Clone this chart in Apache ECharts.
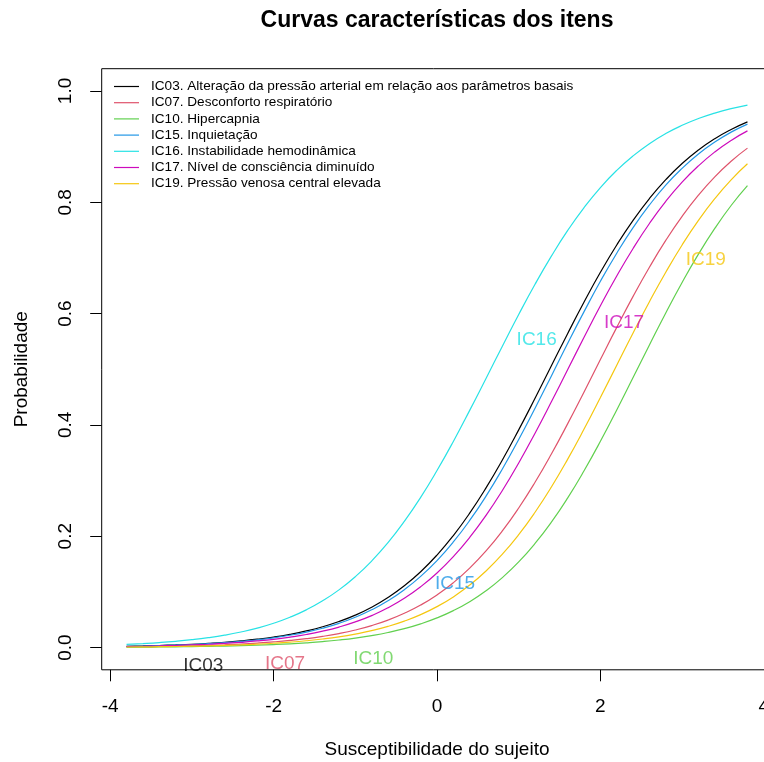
<!DOCTYPE html>
<html>
<head>
<meta charset="utf-8">
<script src="https://cdn.jsdelivr.net/npm/echarts@6/dist/echarts.min.js"></script>
<style>
  html, body { margin: 0; padding: 0; background: #fff; }
  #main { width: 764px; height: 762px; }
</style>
</head>
<body>
<div id="main"></div>
<script>
// habilidade (theta) onde as curvas foram lidas
var theta = [-3.8, -3.6, -3.4, -3.2, -3.0, -2.8, -2.6, -2.4, -2.2, -2.0, -1.8, -1.6, -1.4, -1.2, -1.0, -0.8, -0.6, -0.4, -0.2, 0,
             0.2, 0.4, 0.6, 0.8, 1.0, 1.2, 1.4, 1.6, 1.8, 2.0, 2.2, 2.4, 2.6, 2.8, 3.0, 3.2, 3.4, 3.6, 3.8];

// probabilidades, uma lista por item
var ic03 = [0.0023, 0.0029, 0.0037, 0.0047, 0.0059, 0.0075, 0.0094, 0.0119, 0.0150, 0.0188, 0.0237, 0.0298, 0.0373, 0.0467, 0.0582, 0.0725, 0.0899, 0.1110, 0.1362, 0.1662,
            0.2012, 0.2414, 0.2868, 0.3369, 0.3911, 0.4479, 0.5062, 0.5644, 0.6208, 0.6742, 0.7233, 0.7676, 0.8067, 0.8406, 0.8696, 0.8939, 0.9142, 0.9308, 0.9445];
var ic07 = [0.0013, 0.0016, 0.0020, 0.0025, 0.0032, 0.0040, 0.0050, 0.0063, 0.0080, 0.0101, 0.0127, 0.0159, 0.0200, 0.0251, 0.0315, 0.0395, 0.0493, 0.0615, 0.0763, 0.0945,
            0.1164, 0.1426, 0.1735, 0.2095, 0.2507, 0.2969, 0.3477, 0.4023, 0.4593, 0.5175, 0.5752, 0.6309, 0.6833, 0.7315, 0.7747, 0.8127, 0.8457, 0.8737, 0.8973];
var ic10 = [0.0007, 0.0008, 0.0010, 0.0013, 0.0017, 0.0021, 0.0026, 0.0033, 0.0042, 0.0053, 0.0067, 0.0085, 0.0107, 0.0135, 0.0170, 0.0215, 0.0270, 0.0339, 0.0425, 0.0532,
            0.0663, 0.0824, 0.1020, 0.1256, 0.1538, 0.1870, 0.2253, 0.2689, 0.3176, 0.3705, 0.4268, 0.4850, 0.5436, 0.6011, 0.6559, 0.7068, 0.7530, 0.7942, 0.8299];
var ic15 = [0.0022, 0.0027, 0.0035, 0.0044, 0.0055, 0.0070, 0.0088, 0.0111, 0.0139, 0.0175, 0.0221, 0.0277, 0.0347, 0.0435, 0.0544, 0.0678, 0.0841, 0.1040, 0.1279, 0.1563,
            0.1897, 0.2283, 0.2721, 0.3208, 0.3738, 0.4300, 0.4880, 0.5466, 0.6035, 0.6581, 0.7085, 0.7545, 0.7951, 0.8308, 0.8610, 0.8868, 0.9082, 0.9260, 0.9405];
var ic16 = [0.0056, 0.0071, 0.0089, 0.0112, 0.0141, 0.0177, 0.0222, 0.0279, 0.0349, 0.0436, 0.0544, 0.0677, 0.0840, 0.1036, 0.1273, 0.1554, 0.1883, 0.2265, 0.2697, 0.3180,
            0.3703, 0.4261, 0.4835, 0.5414, 0.5984, 0.6527, 0.7032, 0.7495, 0.7905, 0.8265, 0.8573, 0.8834, 0.9053, 0.9235, 0.9383, 0.9505, 0.9603, 0.9683, 0.9747];
var ic17 = [0.0019, 0.0023, 0.0029, 0.0037, 0.0047, 0.0059, 0.0074, 0.0094, 0.0118, 0.0148, 0.0187, 0.0234, 0.0294, 0.0368, 0.0460, 0.0574, 0.0714, 0.0885, 0.1092, 0.1340,
            0.1634, 0.1978, 0.2374, 0.2821, 0.3316, 0.3851, 0.4415, 0.4995, 0.5575, 0.6140, 0.6675, 0.7170, 0.7619, 0.8016, 0.8361, 0.8655, 0.8904, 0.9112, 0.9283];
var ic19 = [0.0010, 0.0012, 0.0015, 0.0019, 0.0024, 0.0030, 0.0038, 0.0048, 0.0061, 0.0077, 0.0097, 0.0122, 0.0153, 0.0192, 0.0242, 0.0303, 0.0379, 0.0474, 0.0591, 0.0735,
            0.0910, 0.1122, 0.1376, 0.1677, 0.2028, 0.2431, 0.2884, 0.3385, 0.3925, 0.4492, 0.5072, 0.5651, 0.6213, 0.6744, 0.7233, 0.7675, 0.8065, 0.8403, 0.8691];

var itemNames = [
    'IC03. Alteração da pressão arterial em relação aos parâmetros basais',
    'IC07. Desconforto respiratório',
    'IC10. Hipercapnia',
    'IC15. Inquietação',
    'IC16. Instabilidade hemodinâmica',
    'IC17. Nível de consciência diminuído',
    'IC19. Pressão venosa central elevada'
];
var itemValues = [ic03, ic07, ic10, ic15, ic16, ic17, ic19];

// rotulos escritos junto das curvas
var labelText = ['IC03', 'IC07', 'IC10', 'IC15', 'IC16', 'IC17', 'IC19'];
var labelX = [-2.86, -1.86, -0.78, 0.22, 1.22, 2.29, 3.29];
var labelY = [-0.033, -0.030, -0.021, 0.114, 0.553, 0.584, 0.696];

var xTicks = [-4, -2, 0, 2, 4];
var yTicks = [0, 0.2, 0.4, 0.6, 0.8, 1.0];

var colors = ['#000000', '#DF536B', '#61D04F', '#2297E6', '#28E2E5', '#CD0BBC', '#F5C710'];
var font = 'Liberation Sans, Arial, Helvetica, sans-serif';

var series = [];
for (var i = 0; i < itemNames.length; i++) {
    var pts = [];
    for (var j = 0; j < theta.length; j++) {
        pts.push([theta[j], itemValues[i][j]]);
    }
    series.push({
        name: itemNames[i],
        type: 'line',
        data: pts,
        symbol: 'none',
        smooth: 0.5,
        silent: true,
        color: colors[i],
        lineStyle: { width: 1.2, color: colors[i] }
    });
}

var labelData = [];
for (var k = 0; k < labelText.length; k++) {
    labelData.push({
        name: labelText[k],
        value: [labelX[k], labelY[k]],
        label: { color: colors[k] }
    });
}
series.push({
    type: 'scatter',
    data: labelData,
    symbolSize: 1,
    itemStyle: { color: 'rgba(0,0,0,0)' },
    silent: true,
    z: 5,
    label: {
        show: true,
        position: 'inside',
        formatter: '{b}',
        fontSize: 19,
        fontFamily: font
    }
});

var option = {
    animation: false,
    backgroundColor: '#fff',
    title: {
        text: 'Curvas características dos itens',
        left: 437,
        textAlign: 'center',
        top: 9,
        padding: 0,
        textStyle: { fontSize: 23, fontWeight: 'bold', color: '#000', fontFamily: font }
    },
    legend: {
        orient: 'vertical',
        left: 114,
        top: 79.5,
        icon: 'rect',
        itemWidth: 25,
        itemHeight: 1.2,
        itemGap: 2.2,
        padding: 0,
        selectedMode: false,
        data: itemNames,
        textStyle: { fontSize: 13.6, lineHeight: 14, color: '#000', fontFamily: font, padding: [0, 0, 0, 7] }
    },
    grid: {
        left: 101.7,
        right: -8.3,
        top: 68.7,
        bottom: 92.2,
        show: true,
        borderColor: '#000',
        borderWidth: 1,
        containLabel: false,
        outerBoundsMode: 'none'
    },
    xAxis: {
        type: 'value',
        min: -4.104,
        max: 4.104,
        name: 'Susceptibilidade do sujeito',
        nameLocation: 'middle',
        nameGap: 70,
        nameTextStyle: { fontSize: 19, color: '#000', fontFamily: font },
        axisLine: { show: false, onZero: false },
        splitLine: { show: false },
        axisTick: { show: true, length: 11.5, customValues: xTicks, lineStyle: { color: '#000' } },
        axisLabel: {
            customValues: xTicks,
            margin: 27,
            fontSize: 19,
            color: '#000',
            fontFamily: font,
            formatter: function (v) { return String(v); }
        }
    },
    yAxis: {
        type: 'value',
        min: -0.04,
        max: 1.04,
        name: 'Probabilidade',
        nameLocation: 'middle',
        nameGap: 70,
        nameTextStyle: { fontSize: 19, color: '#000', fontFamily: font },
        axisLine: { show: false, onZero: false },
        splitLine: { show: false },
        axisTick: { show: true, length: 11.5, customValues: yTicks, lineStyle: { color: '#000' } },
        axisLabel: {
            customValues: yTicks,
            rotate: 90,
            margin: 26,
            fontSize: 19,
            color: '#000',
            fontFamily: font,
            formatter: function (v) { return v.toFixed(1); }
        }
    },
    series: series
};

var myChart = echarts.init(document.getElementById('main'));
myChart.setOption(option);
</script>
</body>
</html>
